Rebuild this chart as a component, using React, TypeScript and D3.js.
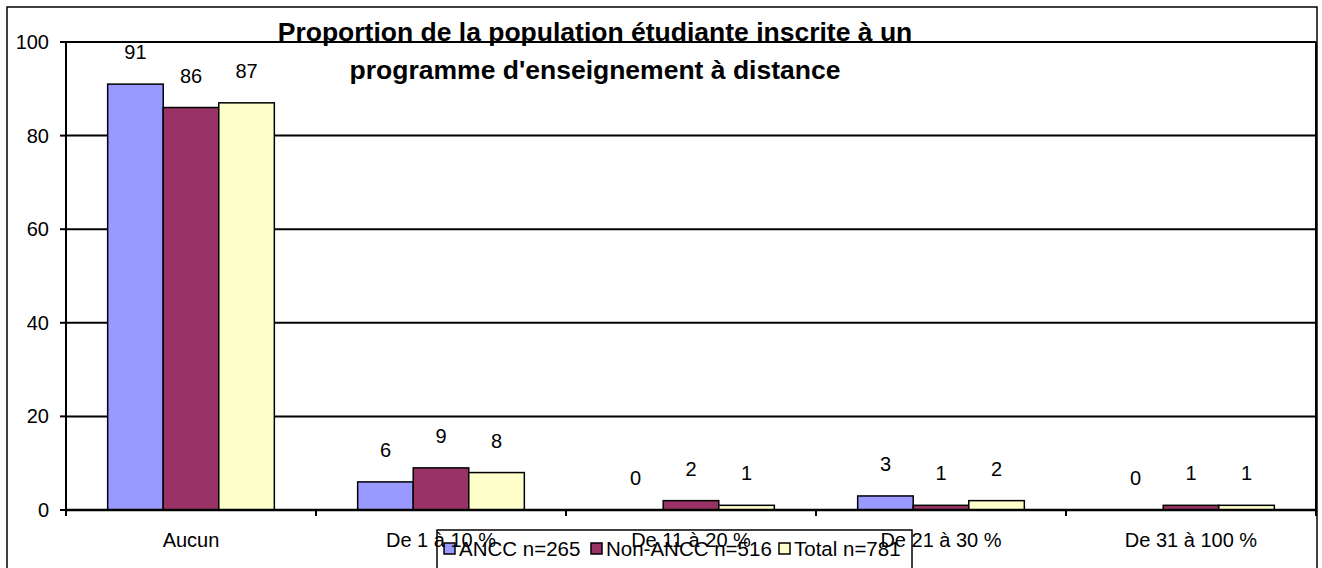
import React from "react";
import * as d3 from "d3";

const categories = ["Aucun", "De 1 à 10 %", "De 11 à 20 %", "De 21 à 30 %", "De 31 à 100 %"];
const seriesNames = ["ANCC n=265", "Non-ANCC n=516", "Total n=781"];
const ancc = [91, 6, 0, 3, 0];
const nonAncc = [86, 9, 2, 1, 1];
const total = [87, 8, 1, 2, 1];
const seriesValues = [ancc, nonAncc, total];
const colors = ["#9999FF", "#993366", "#FFFFCC"];
const yTicks = [0, 20, 40, 60, 80, 100];
const titleLines = ["Proportion de la population étudiante inscrite à un", "programme d'enseignement à distance"];

const W = 1322;
const H = 568;
const plot = { left: 66, right: 1316, top: 42, bottom: 510 };
const font = "'Liberation Sans', Arial, sans-serif";

export default function App() {
  const x = d3.scaleBand<string>().domain(categories).range([plot.left, plot.right]).paddingInner(0).paddingOuter(0);
  const xs = d3.scaleBand<string>().domain(seriesNames).range([0, x.bandwidth()]).paddingInner(0).paddingOuter(0.75);
  const y = d3.scaleLinear().domain([0, 100]).range([plot.bottom, plot.top]);

  const tickXs = categories.map((c) => x(c) as number).concat([plot.right]);

  return (
    <div style={{ position: "absolute", left: 0, top: 0 }}>
      <svg width={W} height={H} style={{ display: "block", fontFamily: font }}>
        <rect x={0} y={0} width={W} height={H} fill="#fff" />
        {/* outer chart frame */}
        <rect x={7} y={7} width={1310} height={620} fill="none" stroke="#000" strokeWidth={1.5} />
        {/* gridlines */}
        {yTicks.filter((t) => t > 0).map((t) => (
          <line key={"g" + t} x1={plot.left} x2={plot.right} y1={y(t)} y2={y(t)} stroke="#000" strokeWidth={2} />
        ))}
        {/* plot right border */}
        <line x1={plot.right} x2={plot.right} y1={plot.top} y2={plot.bottom} stroke="#000" strokeWidth={2} />
        {/* title */}
        {titleLines.map((t, i) => (
          <text key={"t" + i} x={595} y={41 + i * 38} textAnchor="middle" fontSize={26.5} fontWeight="bold" fill="#000">
            {t}
          </text>
        ))}
        {/* bars */}
        {categories.map((c, ci) => (
          <g key={c}>
            {seriesNames.map((s, si) => {
              const v = seriesValues[si][ci];
              const bx = (x(c) as number) + (xs(s) as number);
              return (
                <rect key={s} x={bx} y={y(v)} width={xs.bandwidth()} height={plot.bottom - y(v)} fill={colors[si]} stroke="#000" strokeWidth={1.5} />
              );
            })}
          </g>
        ))}
        {/* value labels */}
        {categories.map((c, ci) =>
          seriesNames.map((s, si) => {
            const v = seriesValues[si][ci];
            const bx = (x(c) as number) + (xs(s) as number) + xs.bandwidth() / 2;
            return (
              <text key={c + s} x={bx} y={y(v) - 25} textAnchor="middle" fontSize={20} fill="#000">
                {v}
              </text>
            );
          })
        )}
        {/* y axis */}
        <line x1={plot.left} x2={plot.left} y1={plot.top} y2={plot.bottom + 6} stroke="#000" strokeWidth={2} />
        {yTicks.map((t) => (
          <g key={"y" + t}>
            <line x1={plot.left - 6} x2={plot.left} y1={y(t)} y2={y(t)} stroke="#000" strokeWidth={2} />
            <text x={plot.left - 17} y={y(t) + 7} textAnchor="end" fontSize={20} fill="#000">
              {t}
            </text>
          </g>
        ))}
        {/* x axis */}
        <line x1={plot.left} x2={plot.right} y1={plot.bottom} y2={plot.bottom} stroke="#000" strokeWidth={2.5} />
        {tickXs.map((tx, i) => (
          <line key={"xt" + i} x1={tx} x2={tx} y1={plot.bottom} y2={plot.bottom + 6} stroke="#000" strokeWidth={2} />
        ))}
        {/* legend */}
        <rect x={437} y={530} width={475} height={80} fill="none" stroke="#000" strokeWidth={1.5} />
        {seriesNames.map((s, i) => {
          const lx = [444, 591, 779][i];
          return (
            <g key={"l" + s}>
              <rect x={lx} y={543} width={11} height={11} fill={colors[i]} stroke="#000" strokeWidth={1.5} />
              <text x={lx + 15} y={556} fontSize={20.5} fill="#000">
                {s}
              </text>
            </g>
          );
        })}
        {/* category labels */}
        {categories.map((c) => (
          <text key={"c" + c} x={(x(c) as number) + x.bandwidth() / 2} y={547} textAnchor="middle" fontSize={20} fill="#000">
            {c}
          </text>
        ))}
      </svg>
    </div>
  );
}
